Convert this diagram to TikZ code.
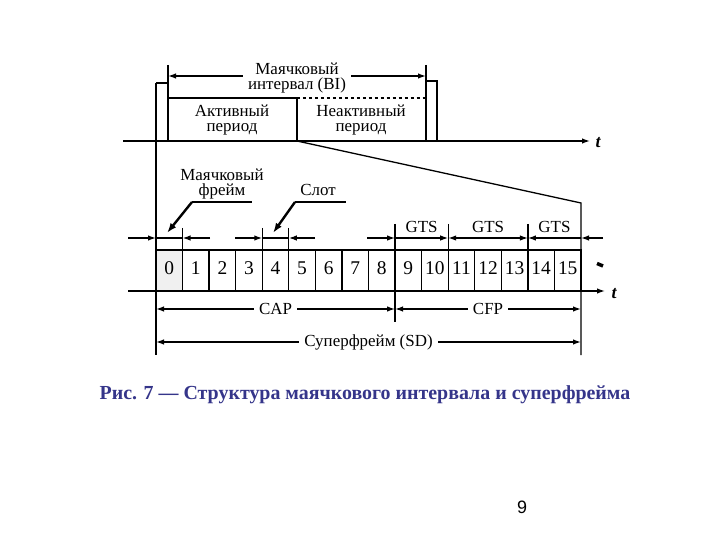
\documentclass[tikz,border=0pt]{standalone}
\usepackage{fontspec}
\setmainfont{Liberation Serif}
\newfontfamily\pagesans{Liberation Sans}
\usetikzlibrary{arrows.meta,calc}
\definecolor{capblue}{HTML}{35358A}
\tikzset{
  ln/.style={line width=1.3bp},
  arr/.style={ln,-{Latex[length=8bp,width=5.5bp]}},
  darr/.style={ln,{Latex[length=8bp,width=5.5bp]}-{Latex[length=8bp,width=5.5bp]}},
  thickarr/.style={line width=2.4bp,-{Latex[length=10bp,width=7bp]}},
  lbl/.style={font=\fontsize{17}{15.5}\selectfont, inner sep=1bp, align=center},
  onl/.style={lbl, fill=white, inner xsep=5bp},
  num/.style={font=\fontsize{19.5}{20}\selectfont, inner sep=0pt},
  tl/.style={font=\fontsize{18}{18}\selectfont\itshape\bfseries, inner sep=0pt},
}
\begin{document}
\begin{tikzpicture}[x=1bp,y=-1bp]
\useasboundingbox (0,0) rectangle (720,540);
% slot boundaries
\foreach \i in {0,...,16} {\coordinate (x\i) at ({156+\i*26.5625},0);}
% ---------- top part ----------
\coordinate (ax1s) at (123,141); \coordinate (ax1e) at (590,141);
\draw[arr] (ax1s) -- (ax1e);
\node[tl] (t1) at (598,143) {t};
\coordinate (bl) at (156,83); \coordinate (blb) at (156,355);
\draw[ln] (bl) -- (blb);
\draw[ln] (bl) -- (168,83) -- (168,141);
\draw[ln] (168,65) -- (168,83);
\draw[ln] (168,98) -- (297,98) -- (297,141);
\draw[ln,dashed] (297,98) -- (426,98);
\draw[ln] (426,65) -- (426,141);
\draw[ln] (426,81) -- (437,81) -- (437,141);
\node[lbl] (act) at (232,120) {Активный\\период};
\node[lbl] (inact) at (361,120) {Неактивный\\период};
\coordinate (bia) at (168,76); \coordinate (bib) at (426,76);
\draw[darr] (bia) -- (bib);
\node[onl] (bi) at (297,78) {Маячковый\\интервал (BI)};
\coordinate (dg1) at (297,141); \coordinate (dg2) at (581,203); \coordinate (dg3) at (581,355);
\draw[ln] (dg1) -- (dg2) -- (dg3);
% ---------- slots ----------
\fill[gray!12] (156,250) rectangle ($(x1)+(0,291)$);
\draw[ln] (156,250) rectangle (581,291);
\foreach \i in {1,...,15} {\draw[ln] ($(x\i)+(0,250)$) -- ($(x\i)+(0,291)$);}
\foreach \i in {0,...,15} {\node[num] (n\i) at ($(x\i)+(13.28,268)$) {\i};}
\coordinate (ax2s) at (128,291); \coordinate (ax2e) at (605,291);
\draw[arr] (ax2s) -- (ax2e);
\node[tl] (t2) at (614,294) {t};
% arrows above slots
\draw[arr] (128,238) -- (156,238);
\draw[ln] (156,238) -- ($(x1)+(0,238)$);
\draw[arr] (210,238) -- ($(x1)+(0,238)$);
\draw[ln] ($(x1)+(0,228)$) -- ($(x1)+(0,250)$);
\draw[arr] (235,238) -- ($(x4)+(0,238)$);
\draw[ln] ($(x4)+(0,238)$) -- ($(x5)+(0,238)$);
\draw[arr] (315,238) -- ($(x5)+(0,238)$);
\draw[ln] ($(x4)+(0,228)$) -- ($(x4)+(0,250)$);
\draw[ln] ($(x5)+(0,228)$) -- ($(x5)+(0,250)$);
\draw[arr] (367,238) -- ($(x9)+(0,238)$);
\draw[arr] ($(x9)+(0,238)$) -- ($(x11)+(0,238)$);
\draw[darr] ($(x11)+(0,238)$) -- ($(x14)+(0,238)$);
\draw[arr] ($(x16)+(0,238)$) -- ($(x14)+(0,238)$);
\draw[arr] (603,238) -- ($(x16)+(0,238)$);
\foreach \i in {9,11,14} {\draw[ln] ($(x\i)+(0,224)$) -- ($(x\i)+(0,250)$);}
\node[lbl] (g1) at ($(x9)!0.5!(x11)+(0,227)$) {GTS};
\node[lbl] (g2) at ($(x11)!0.5!(x14)+(0,227)$) {GTS};
\node[lbl] (g3) at ($(x14)!0.5!(x16)+(0,227)$) {GTS};
% annotations
\node[lbl] (bf) at (222,184) {Маячковый\\фрейм};
\coordinate (bfa) at (192,202); \coordinate (bfb) at (252,202); \coordinate (bfc) at (167,233);
\draw[ln] (bfa) -- (bfb);
\draw[thickarr] (bfa) -- (bfc);
\node[lbl] (sl) at (318,190) {Слот};
\coordinate (sla) at (295,202); \coordinate (slb) at (346,202); \coordinate (slc) at (273,233);
\draw[ln] (sla) -- (slb);
\draw[thickarr] (sla) -- (slc);
\draw[line width=3.5bp] (597,263.5) -- (603,266);
% bottom dimension arrows
\draw[ln] ($(x9)+(0,291)$) -- ($(x9)+(0,322)$);
\draw[darr] (156,309) -- ($(x9)+(0,309)$);
\draw[darr] ($(x9)+(0,309)$) -- (581,309);
\node[onl] (cap) at ($(156,309)!0.5!(x9|-0,309)$) {CAP};
\node[onl] (cfp) at ($(x9|-0,309)!0.5!(581,309)$) {CFP};
\draw[darr] (156,342) -- (581,342);
\node[onl] (sd) at (368.5,342) {Суперфрейм (SD)};
% caption
\node[font=\fontsize{20}{22}\selectfont\bfseries, text=capblue, inner sep=0pt] (cap7) at (365,395) {Рис. 7 — Структура маячкового интервала и суперфрейма};
\node[font=\pagesans\fontsize{18}{18}\selectfont, inner sep=0pt] (pg) at (522,507) {9};
\end{tikzpicture}
\end{document}
